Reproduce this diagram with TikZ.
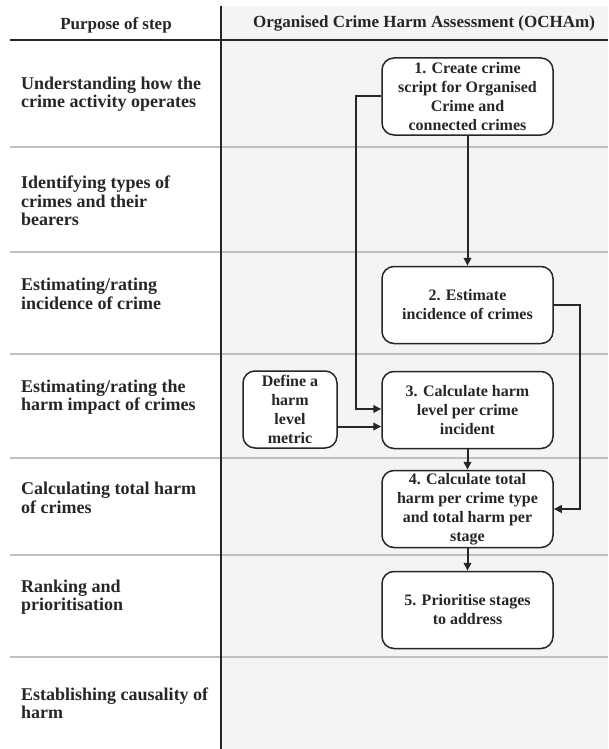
\documentclass[tikz,border=0pt]{standalone}
\usepackage{fontspec}
\setmainfont{Liberation Serif}
\usepackage{tikz}
\usetikzlibrary{arrows.meta}
\definecolor{panelgray}{HTML}{F3F4F3}
\definecolor{rulegray}{HTML}{BFBFBF}
\definecolor{inkgray}{HTML}{262626}
\tikzstyle{stepbox}=[draw=inkgray,fill=white,text=inkgray,line width=1.5pt,
                     rounded corners=12pt,minimum width=171pt,minimum height=77pt,
                     inner sep=2pt,align=center,
                     font=\fontsize{16}{19}\selectfont\bfseries]
\tikzstyle{purpose}=[anchor=west,align=left,inner sep=0pt,text=inkgray,
                     font=\fontsize{18}{18.5}\selectfont\bfseries]
\tikzstyle{heading}=[inner sep=0pt,text=inkgray,
                     font=\fontsize{17}{19}\selectfont\bfseries]
\tikzstyle{flow}=[draw=inkgray,line width=2pt,
                  -{Triangle[length=8pt,width=7.5pt]}]

\begin{document}
\begin{tikzpicture}[x=1pt,y=-1pt]
    \useasboundingbox (0,0) rectangle (608,749);
    \fill[panelgray] (222,6) rectangle (608,749);
    \foreach \ry in {147,252,354,458,555,657}
      \draw[rulegray,line width=2pt] (10,\ry) -- (608,\ry);
    \draw[inkgray,line width=2pt] (10,40) -- (608,40);
    \draw[inkgray,line width=2.2pt] (221,6) -- (221,749);

    \node (h1) at (116,25) [heading]{Purpose of step};
    \node (h2) at (424,23) [heading]{Organised Crime Harm Assessment (OCHAm)};

    \node (p1) at (21,94)  [purpose]{Understanding how the\\crime activity operates};
    \node (p2) at (21,201) [purpose]{Identifying types of\\crimes and their\\bearers};
    \node (p3) at (21,294) [purpose]{Estimating/rating\\incidence of crime};
    \node (p4) at (21,397) [purpose]{Estimating/rating the\\harm impact of crimes};
    \node (p5) at (21,498) [purpose]{Calculating total harm\\of crimes};
    \node (p6) at (21,597) [purpose]{Ranking and\\prioritisation};
    \node (p7) at (21,703) [purpose]{Establishing causality of\\harm};

    \node (b1) at (467.5,96.5) [stepbox]{1. Create crime\\script for Organised\\Crime and\\connected crimes};
    \node (b2) at (467.5,305)  [stepbox]{2. Estimate\\incidence of crimes};
    \node (b3) at (467.5,410)  [stepbox]{3. Calculate harm\\level per crime\\incident};
    \node (b4) at (467.5,509)  [stepbox]{4. Calculate total\\harm per crime type\\and total harm per\\stage};
    \node (b5) at (467.5,610)  [stepbox]{5. Prioritise stages\\to address};
    \node (dm) at (290,409.5)  [stepbox,minimum width=94pt]{Define a\\harm\\level\\metric};

    \draw[flow] (b1.west) -- ++(-25,0) |- ([yshift=1pt]b3.west);
    \draw[flow] ([yshift=-17pt]dm.east) -- ([yshift=-17pt]dm.east -| b3.west);
    \draw[flow] (b1) -- (b2);
    \draw[flow] (b2.east) -- ++(26,0) |- (b4.east);
    \draw[flow] (b3) -- (b4);
    \draw[flow] (b4) -- (b5);
\end{tikzpicture}
\end{document}
